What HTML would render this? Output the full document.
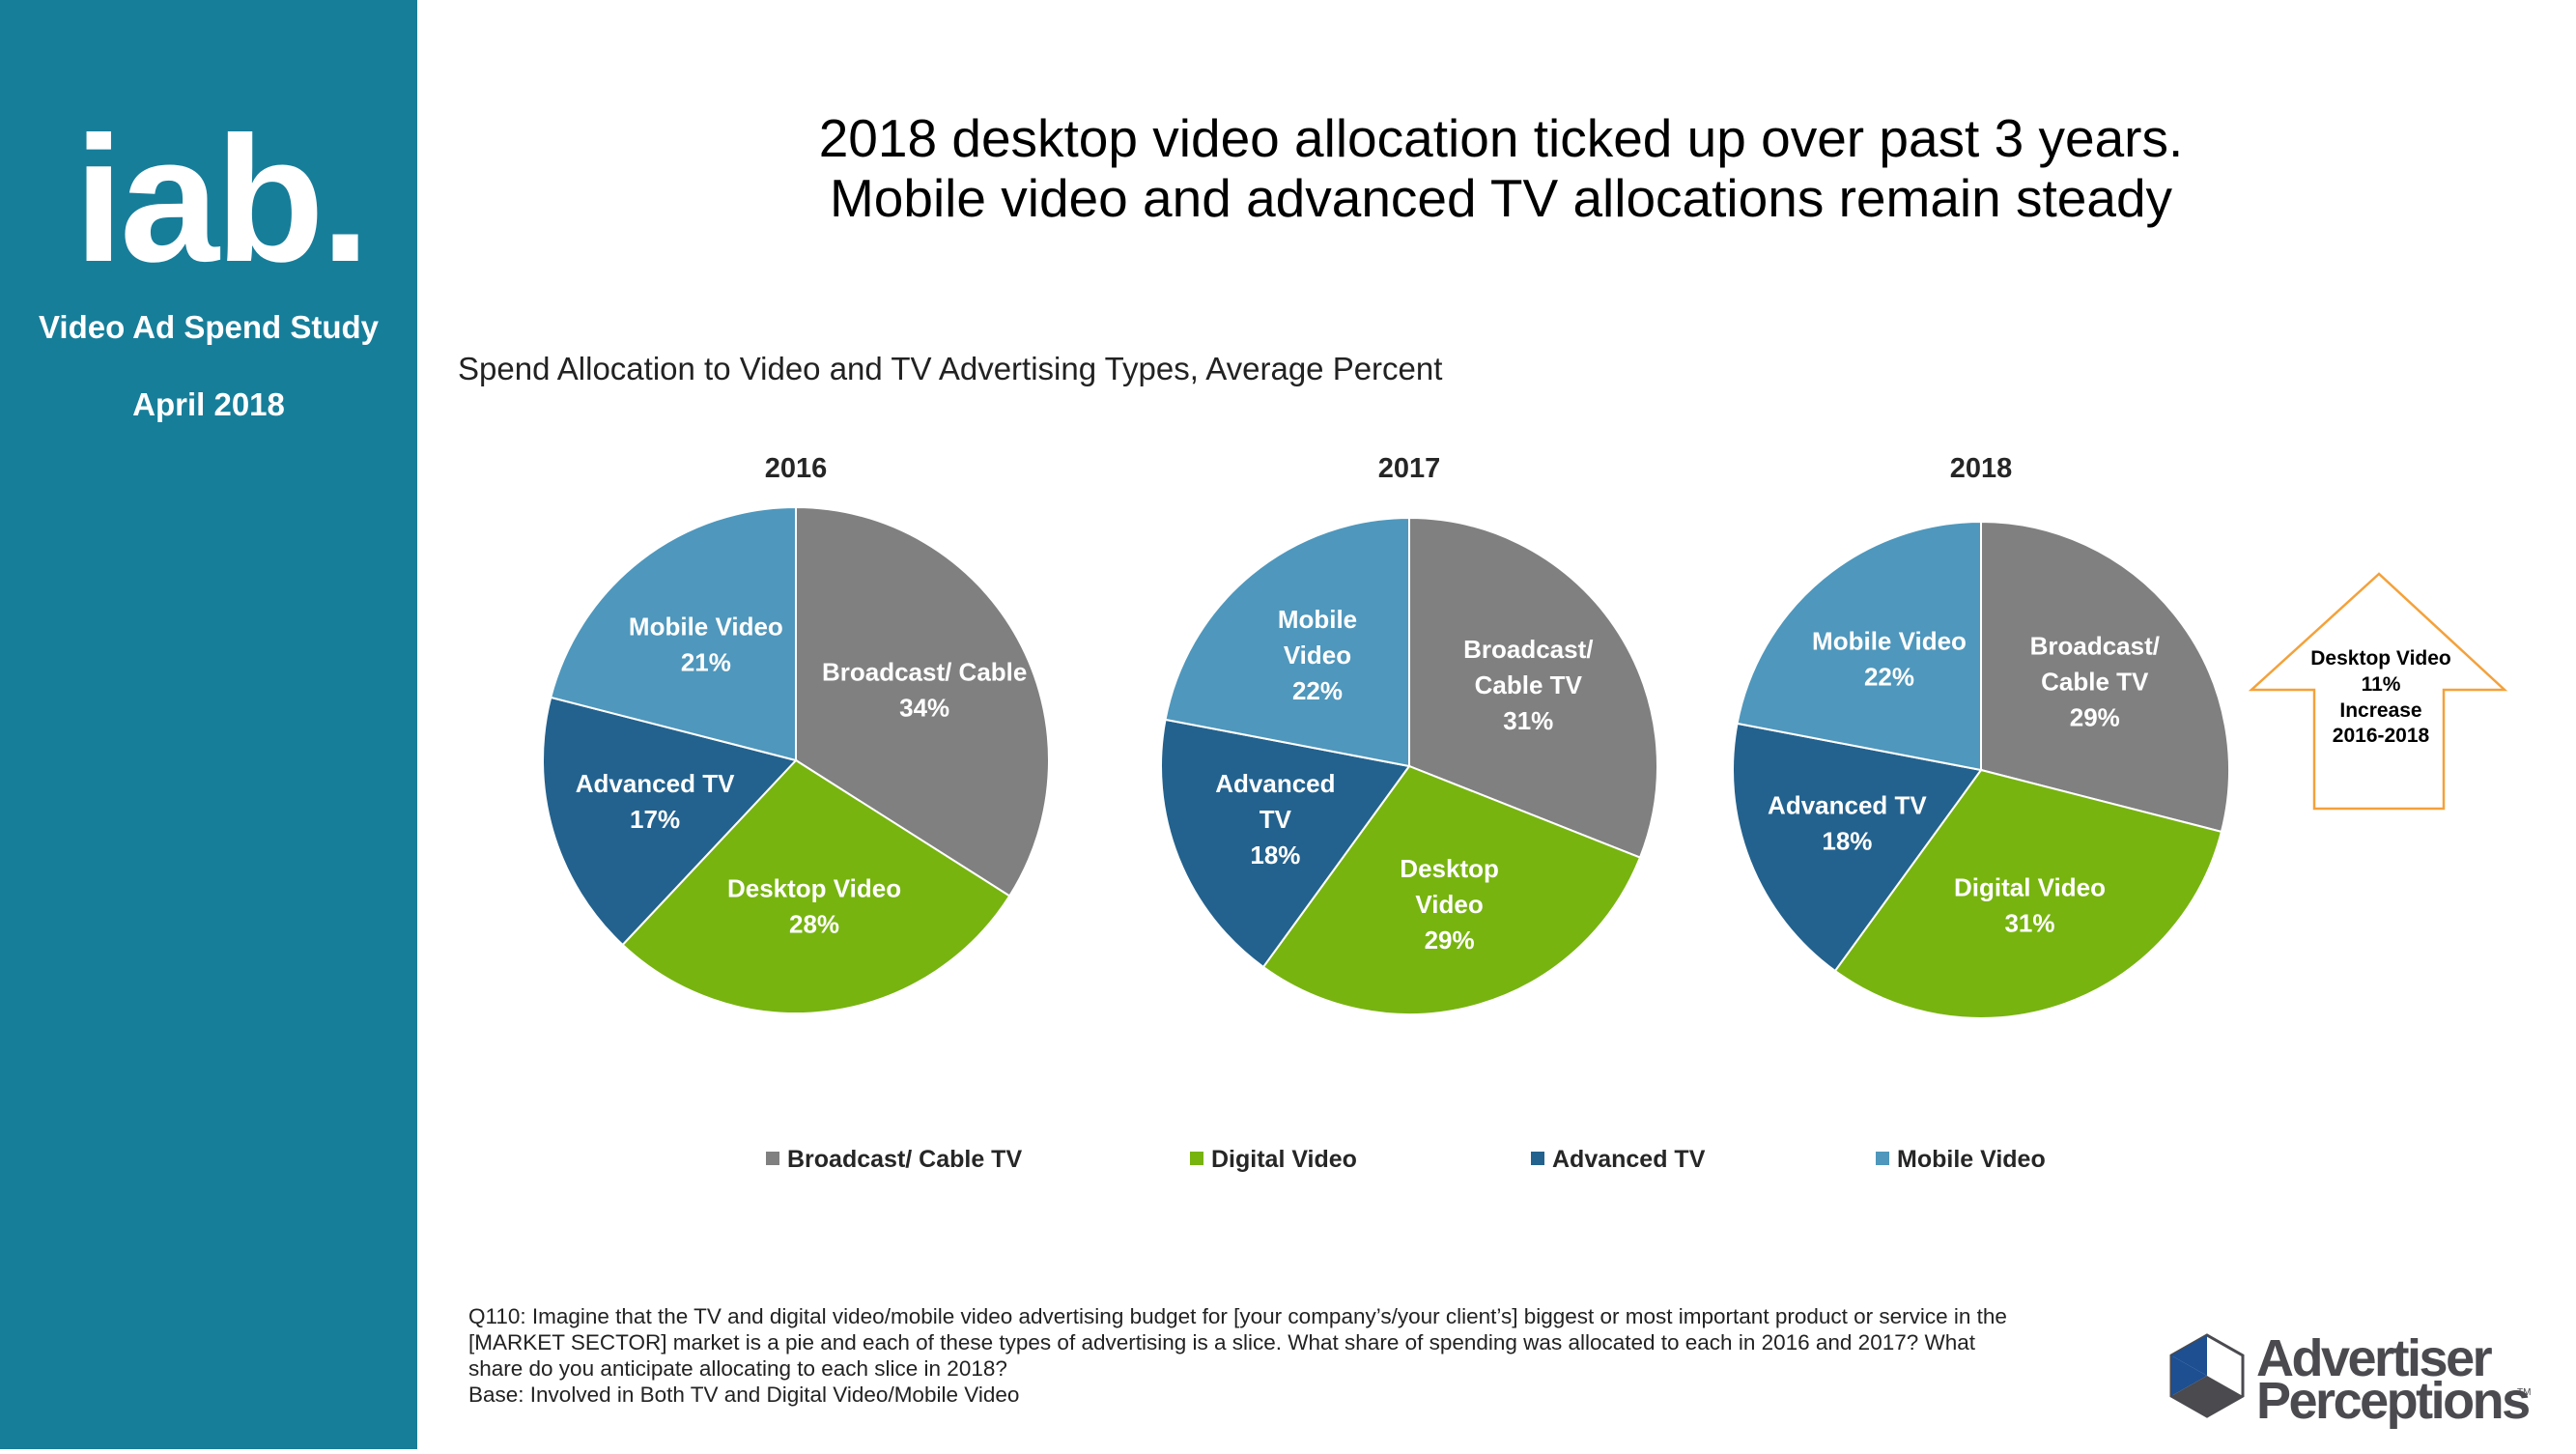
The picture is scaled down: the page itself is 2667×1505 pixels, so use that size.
<!DOCTYPE html>
<html><head><meta charset="utf-8"><style>
body{margin:0;width:2667px;height:1500px;overflow:hidden;background:#fff;font-family:"Liberation Sans",sans-serif}
svg text{font-family:"Liberation Sans",sans-serif}
</style></head><body>
<svg id="chart" width="2667" height="1500" viewBox="0 0 2667 1500" xmlns="http://www.w3.org/2000/svg">
<rect x="0" y="0" width="432" height="1500" fill="#177e9a"/>
<text x="228" y="270" text-anchor="middle" font-size="185" font-weight="bold" fill="#fff" letter-spacing="-4">iab.</text>
<text x="216" y="350" text-anchor="middle" font-size="33" font-weight="bold" fill="#fff">Video Ad Spend Study</text>
<text x="216" y="430" text-anchor="middle" font-size="33" font-weight="bold" fill="#fff">April 2018</text>
<text x="1554" y="162" text-anchor="middle" font-size="55" fill="#000">2018 desktop video allocation ticked up over past 3 years.</text>
<text x="1554" y="224" text-anchor="middle" font-size="55" fill="#000">Mobile video and advanced TV allocations remain steady</text>
<text x="474" y="393" font-size="33" fill="#222">Spend Allocation to Video and TV Advertising Types, Average Percent</text>
<g id="pies"></g>
<g id="legend"></g>
<g transform="translate(-14,-2)">
<polygon points="2477,596 2345,716 2410,716 2410,839 2544,839 2544,716 2607,716" fill="#fff" stroke="#f4a13a" stroke-width="2.5"/>
<text x="2479" y="690" text-anchor="middle" font-size="21" font-weight="bold">Desktop Video</text>
<text x="2479" y="717" text-anchor="middle" font-size="21" font-weight="bold">11%</text>
<text x="2479" y="744" text-anchor="middle" font-size="21" font-weight="bold">Increase</text>
<text x="2479" y="770" text-anchor="middle" font-size="21" font-weight="bold">2016-2018</text>
</g>
<g font-size="22.5" fill="#222">
<text x="485" y="1370">Q110: Imagine that the TV and digital video/mobile video advertising budget for [your company’s/your client’s] biggest or most important product or service in the</text>
<text x="485" y="1397">[MARKET SECTOR] market is a pie and each of these types of advertising is a slice.  What share of spending was allocated to each in 2016 and 2017?  What</text>
<text x="485" y="1424">share do you anticipate allocating to each slice in 2018?</text>
<text x="485" y="1451">Base: Involved in Both TV and Digital Video/Mobile Video</text>
</g>
<g>
<polygon points="2285,1382 2322,1403 2322,1445 2285,1466 2248,1445 2248,1403" fill="#fff" stroke="#4a4a4f" stroke-width="3"/>
<polygon points="2285,1382 2285,1424 2248,1403" fill="#1d4f91"/>
<polygon points="2248,1403 2285,1424 2248,1445" fill="#1d4f91"/>
<polygon points="2248,1445 2285,1424 2285,1466" fill="#4a4a4f"/>
<polygon points="2285,1424 2322,1445 2285,1466" fill="#4a4a4f"/>
<text x="2336" y="1424" font-size="54" font-weight="bold" fill="#4a4a4f" letter-spacing="-2.5">Advertiser</text>
<text x="2336" y="1468" font-size="54" font-weight="bold" fill="#4a4a4f" letter-spacing="-2.5">Perceptions</text>
<text x="2606" y="1444" font-size="10" fill="#4a4a4f">TM</text>
</g>
</svg>
<script>
const years = ["2016", "2017", "2018"];
const broadcast = [34, 31, 29];
const digital = [28, 29, 31];
const advanced = [17, 18, 18];
const mobile = [21, 22, 22];
const sliceNames = [["Broadcast/ Cable","Desktop Video","Advanced TV","Mobile Video"],["Broadcast/|Cable TV","Desktop|Video","Advanced|TV","Mobile|Video"],["Broadcast/|Cable TV","Digital Video","Advanced TV","Mobile Video"]];
const legendLabels = ["Broadcast/ Cable TV", "Digital Video", "Advanced TV", "Mobile Video"];
const colors = ["#808080", "#77b410", "#23628e", "#4f97bc"];
const NS = "http://www.w3.org/2000/svg";
const centers = [[824,787,262],[1459,793,257],[2051,797,257]];
const pies = document.getElementById("pies");
function pt(cx,cy,r,frac){const a=frac*2*Math.PI;return [cx+r*Math.sin(a),cy-r*Math.cos(a)];}
years.forEach((y,i)=>{
  const [cx,cy,r]=centers[i];
  const g=document.createElementNS(NS,"g");
  
  
  pies.appendChild(g);
  const yt=document.createElementNS(NS,"text");
  
  
  yt.setAttribute("x",cx);yt.setAttribute("y",494);yt.setAttribute("text-anchor","middle");
  yt.setAttribute("font-size","29");yt.setAttribute("font-weight","bold");yt.setAttribute("fill","#262626");
  yt.textContent=y;g.appendChild(yt);
  const vals=[broadcast[i],digital[i],advanced[i],mobile[i]];
  const tot=vals.reduce((a,b)=>a+b,0);
  let acc=0;
  vals.forEach((v,k)=>{
    const f0=acc/tot, f1=(acc+v)/tot; acc+=v;
    const p0=pt(cx,cy,r,f0), p1=pt(cx,cy,r,f1);
    const path=document.createElementNS(NS,"path");
    
    
    path.setAttribute("d",`M${cx},${cy} L${p0[0]},${p0[1]} A${r},${r} 0 ${f1-f0>0.5?1:0} 1 ${p1[0]},${p1[1]} Z`);
    path.setAttribute("fill",colors[k]);path.setAttribute("stroke","#fff");path.setAttribute("stroke-width","2");
    g.appendChild(path);
    const lp=pt(cx,cy,r*0.58,(f0+f1)/2);
    const lines=sliceNames[i][k].split("|").concat([v+"%"]);
    const t=document.createElementNS(NS,"text");
    
    
    t.setAttribute("text-anchor","middle");t.setAttribute("font-size","26");t.setAttribute("font-weight","bold");t.setAttribute("fill","#fff");
    const lh=37, start=lp[1]-(lines.length-1)*lh/2+9;
    lines.forEach((ln,j)=>{const ts=document.createElementNS(NS,"tspan");ts.setAttribute("x",lp[0]);ts.setAttribute("y",start+j*lh);ts.textContent=ln;t.appendChild(ts);});
    g.appendChild(t);
  });
});
const legend=document.getElementById("legend");
const lx=[793,1232,1585,1942];
legendLabels.forEach((l,k)=>{
  const g=document.createElementNS(NS,"g");
  
  
  const s=document.createElementNS(NS,"rect");
  s.setAttribute("x",lx[k]);s.setAttribute("y",1192);s.setAttribute("width",14);s.setAttribute("height",14);s.setAttribute("fill",colors[k]);
  const t=document.createElementNS(NS,"text");
  t.setAttribute("x",lx[k]+22);t.setAttribute("y",1208);t.setAttribute("font-size","25");t.setAttribute("font-weight","bold");t.setAttribute("fill","#262626");
  t.textContent=l;
  g.appendChild(s);g.appendChild(t);legend.appendChild(g);
});
</script>
</body></html>
